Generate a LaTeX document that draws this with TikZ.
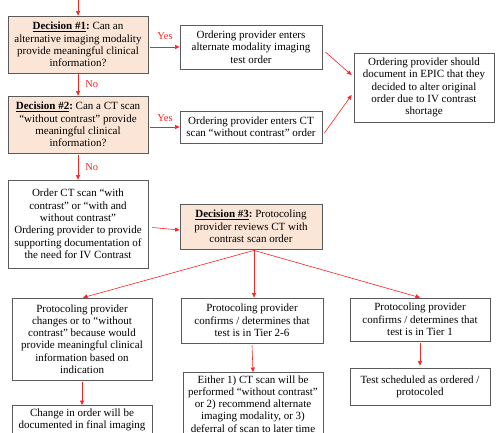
\documentclass[tikz,border=0pt]{standalone}
\usepackage{fontspec}
\setmainfont{Liberation Serif}
\usetikzlibrary{arrows.meta}
\definecolor{decfill}{HTML}{FBE5D6}
\definecolor{boxline}{HTML}{5A5A5A}
\definecolor{arrred}{HTML}{FF2020}
\frenchspacing
\tikzset{
  box/.style={draw=boxline, line width=0.8pt, fill=white, align=center,
    font=\fontsize{11}{12.3}\selectfont, inner sep=1pt},
  dec/.style={box, fill=decfill},
  arr/.style={draw=arrred, line width=0.6pt, -{Triangle[length=4.5pt,width=4pt]}},
  lab/.style={text=arrred, font=\fontsize{10.5}{12}\selectfont, inner sep=1pt}
}
\newcommand{\decname}[1]{\underline{\textbf{#1}}\textbf{:}}
\begin{document}
\begin{tikzpicture}[x=1pt,y=-1pt]
\useasboundingbox (0,0) rectangle (500,433);
\clip (0,0) rectangle (500,433);
\coordinate (top) at (78,-2);
\node[dec, minimum width=140pt, minimum height=57pt] (d1) at (78,44.5)
  {\decname{Decision \#1} Can an\\ alternative imaging modality\\ provide meaningful clinical\\ information?};
\node[box, minimum width=142pt, minimum height=44pt] (alt) at (251,47)
  {Ordering provider enters\\ alternate modality imaging\\ test order};
\node[dec, minimum width=140pt, minimum height=57pt] (d2) at (78,124.5)
  {\decname{Decision \#2} Can a CT scan\\ “without contrast” provide\\ meaningful clinical\\ information?};
\node[box, minimum width=142pt, minimum height=32pt] (ctw) at (251,127)
  {Ordering provider enters CT\\ scan “without contrast” order};
\node[box, minimum width=140pt, minimum height=69pt] (doc) at (424,87.5)
  {Ordering provider should\\ document in EPIC that they\\ decided to alter original\\ order due to IV contrast\\ shortage};
\node[box, minimum width=140pt, minimum height=88pt] (order) at (78,224)
  {Order CT scan “with\\ contrast” or “with and\\ without contrast”\\ Ordering provider to provide\\ supporting documentation of\\ the need for IV Contrast};
\node[dec, minimum width=142pt, minimum height=45pt] (d3) at (251,226.5)
  {\decname{Decision \#3} Protocoling\\ provider reviews CT with\\ contrast scan order};
\node[box, minimum width=140pt, minimum height=82pt] (bl) at (82,339)
  {Protocoling provider\\ changes or to “without\\ contrast” because would\\ provide meaningful clinical\\ information based on\\ indication};
\node[box, minimum width=142pt, minimum height=45pt] (bm) at (252,320.5)
  {Protocoling provider\\ confirms / determines that\\ test is in Tier 2-6};
\node[box, minimum width=140pt, minimum height=43pt] (br) at (420,319.5)
  {Protocoling provider\\ confirms / determines that\\ test is in Tier 1};
\node[box, anchor=north, minimum width=140pt, inner ysep=3pt] (bl2) at (82,405)
  {Change in order will be\\ documented in final imaging\\ \strut};
\node[box, anchor=north, minimum width=140pt, inner ysep=3pt] (bm2) at (253,372)
  {Either 1) CT scan will be\\ performed “without contrast”\\ or 2) recommend alternate\\ imaging modality, or 3)\\ deferral of scan to later time};
\node[box, minimum width=140pt, minimum height=37pt] (br2) at (420,386.5)
  {Test scheduled as ordered /\\ protocoled};
% connectors
\draw[arr] (top) -- (d1.north);
\draw[arr] ([xshift=2pt]d1.east |- alt.west) -- (alt.west) node[lab, midway, above=6pt] {Yes};
\draw[arr] (d1.south) -- (d2.north) node[lab, midway, right=6pt] {No};
\draw[arr] ([xshift=2pt]d2.east |- ctw.west) -- (ctw.west) node[lab, midway, above=4pt] {Yes};
\draw[arr] (d2.south) ++(0,2) -- (order.north) node[lab, midway, right=6pt] {No};
\draw[arr] ([xshift=3pt,yshift=-5pt]alt.east) -- ([xshift=-2pt,yshift=12.5pt]doc.west);
\draw[arr] ([xshift=2pt,yshift=-6pt]ctw.east) -- ([xshift=-2pt,yshift=-7.5pt]doc.west);
\draw[arr] ([xshift=4pt,yshift=-3.5pt]order.east) -- ([yshift=-3.5pt]d3.west);
\draw[arr] ([xshift=3pt,yshift=-1pt]d3.south) -- ([xshift=1pt]bl.north);
\draw[arr] ([xshift=3pt,yshift=-1pt]d3.south) -- ([xshift=2pt]bm.north);
\draw[arr] ([xshift=3pt,yshift=-1pt]d3.south) -- (br.north);
\draw[arr] (bl.south) ++(0,2) -- (bl2.north);
\draw[arr] (bm.south) ++(0,2) -- (bm2.north);
\draw[arr] (br.south) ++(0,2) -- ([yshift=2pt]br2.north);
\end{tikzpicture}
\end{document}
